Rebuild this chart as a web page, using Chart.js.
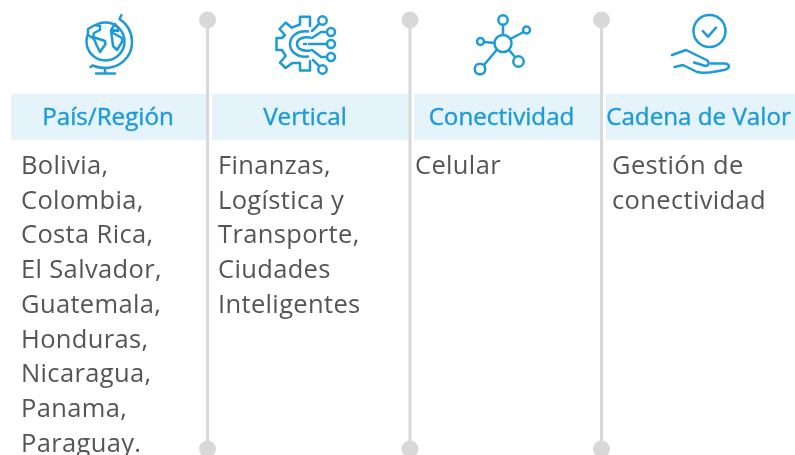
<!DOCTYPE html>
<html lang="es">
<head>
<meta charset="utf-8">
<title>Cobertura</title>
<script src="https://cdn.jsdelivr.net/npm/chart.js@4/dist/chart.umd.js"></script>
<style>html,body{margin:0;padding:0;background:#fff;overflow:hidden}canvas{display:block}</style>
</head>
<body>
<canvas id="c" width="795" height="455"></canvas>
<script>
const headers = ["País/Región", "Vertical", "Conectividad", "Cadena de Valor"];
const paisRegion = ["Bolivia,", "Colombia,", "Costa Rica,", "El Salvador,", "Guatemala,", "Honduras,", "Nicaragua,", "Panama,", "Paraguay."];
const vertical = ["Finanzas,", "Logística y", "Transporte,", "Ciudades", "Inteligentes"];
const conectividad = ["Celular"];
const cadena = ["Gestión de", "conectividad"];
const columns = [paisRegion, vertical, conectividad, cadena];
const columnX = [21, 218, 415, 612];
const headerX = [108, 305, 501.5, 698.5];
const bandStart = [11, 212, 414, 606];
const bandEnd = [207, 410, 601, 795];
const dividerX = [207.5, 410, 601.5];
const dividerEnds = [20, 449];

const BLUE = "#1d9bd8", BAND = "#e5f3fb", GREY = "#d9d8d8", TEXT = "#555555";
const BODY_FONT = '400 25.5px "Open Sans", sans-serif';
const HEAD_FONT = '400 24.2px "Open Sans", sans-serif';

function drawIcons(ctx) {
  ctx.save();
  ctx.strokeStyle = BLUE; ctx.lineWidth = 2.5; ctx.lineCap = "round"; ctx.lineJoin = "round";
  const s = d => ctx.stroke(new Path2D(d));
  const circle = (x, y, r) => { ctx.beginPath(); ctx.arc(x, y, r, 0, Math.PI * 2); ctx.stroke(); };
  // globe
  ctx.beginPath(); ctx.arc(105.5, 41.5, 19, 0, Math.PI * 2); ctx.stroke();
  ctx.fillStyle = "#fff";
  let p = new Path2D("M88 29 L95 25 L100 26 L100 30 L94 33 L93 37 L105 41 L105.5 44 L100 52 L97 46 L94 39 L88 35 Z");
  ctx.fill(p); ctx.stroke(p);
  p = new Path2D("M115 24 L118 28 L118 31 L112 30 L113 33 L122 38 L122 42 L117 50 L113 46 L112 38 L111 30 Z");
  ctx.fill(p); ctx.stroke(p);
  s("M121.5 15 L119.5 19 C127 24 132 32 132 42 C132 57 120 68 105 68 C100 68 96 67 92.5 65.5 L90.5 67");
  s("M105 68 L105 73.5 M96 73.5 L115 73.5");
  // gear and circuit
  s("M310 26 L310 16.7 L300 16.7 L300 24.5 L291.7 27.7 L285.7 22.5 L279.5 29 L285 35 L282 38 L276.5 38 L276.5 50 L282 50 L285.7 56 L280 62.5 L285.7 68 L292.3 63 L300 63 L300 70.5 L310 70.5 L310 61");
  s("M308 31.5 C298 30 290 36 290 44 C290 52 298 58 308 56.5");
  s("M310 37.5 C303 36.5 297 39 297 44 C297 49 303 51.5 310 50.5");
  s("M304 44 L306 44 M309 44 L326.5 44");
  s("M312 31 L319 24 M312 38 L321 32 L327 32 M312 50 L321 57 L327 57 M313 60 L319 66");
  circle(322.5, 20.5, 4.2); circle(331, 32, 4); circle(331, 44, 4); circle(331, 57, 4); circle(322.5, 69.5, 4.2);
  // network
  circle(503, 43.5, 8.5); circle(503, 20, 4.7); circle(526.5, 30, 3.5); circle(480.5, 41.5, 3.5); circle(518.5, 61.5, 5.2); circle(480, 69, 5.3);
  s("M503 25 L503 35 M510.5 39 L523.5 32 M484 42 L494.5 43 M509 50 L515 57 M497 49.5 L484 65");
  // hand
  circle(709.5, 31, 16);
  s("M702.7 31 L708 36.7 L716 27.7");
  s("M672 55 L686 50 L706.5 60 C710.5 62.5 708.5 67 704 65.5 L694 62.5");
  s("M674.5 67 L683 65 L697 72 C705 74.5 716 71 724 70 C730 69 731 63.5 724 63.5 L711 63.5");
  ctx.restore();
}

const infographic = {
  id: "infographic",
  beforeDatasetsDraw(chart) {
    const { ctx, scales: { x, y } } = chart;
    ctx.save();
    ctx.fillStyle = BAND;
    bandStart.forEach((b, i) => {
      const l = x.getPixelForValue(b), r = x.getPixelForValue(bandEnd[i]);
      const t = y.getPixelForValue(94), bt = y.getPixelForValue(140);
      ctx.fillRect(l, t, r - l, bt - t);
    });
    ctx.restore();
  },
  afterDatasetsDraw(chart) {
    const { ctx, scales: { x, y } } = chart;
    ctx.save();
    ctx.textBaseline = "alphabetic";
    ctx.font = HEAD_FONT; ctx.fillStyle = BLUE; ctx.strokeStyle = BLUE; ctx.lineWidth = 0.4; ctx.textAlign = "center";
    headers.forEach((h, i) => {
      const hx = x.getPixelForValue(headerX[i]), hy = y.getPixelForValue(125);
      ctx.fillText(h, hx, hy);
      ctx.strokeText(h, hx, hy);
    });
    ctx.font = BODY_FONT; ctx.fillStyle = TEXT; ctx.textAlign = "left";
    ctx.letterSpacing = "0.35px";
    columns.forEach((col, i) => col.forEach((t, j) =>
      ctx.fillText(t, x.getPixelForValue(columnX[i]), y.getPixelForValue(174 + j * 34.7))));
    ctx.restore();
    drawIcons(ctx);
  }
};

new Chart(document.getElementById("c"), {
  type: "scatter",
  data: {
    datasets: dividerX.map(v => ({
      data: dividerEnds.map(e => ({ x: v, y: e })),
      showLine: true, borderColor: GREY, borderWidth: 3, clip: false,
      pointRadius: 8.5, pointBackgroundColor: GREY, pointBorderWidth: 0
    }))
  },
  options: {
    responsive: false, animation: false, events: [],
    layout: { padding: 0, autoPadding: false },
    plugins: { legend: { display: false }, tooltip: { enabled: false } },
    scales: {
      x: { type: "linear", min: 0, max: 795, display: false },
      y: { type: "linear", min: 0, max: 455, reverse: true, display: false }
    }
  },
  plugins: [infographic]
});
</script>
</body>
</html>
